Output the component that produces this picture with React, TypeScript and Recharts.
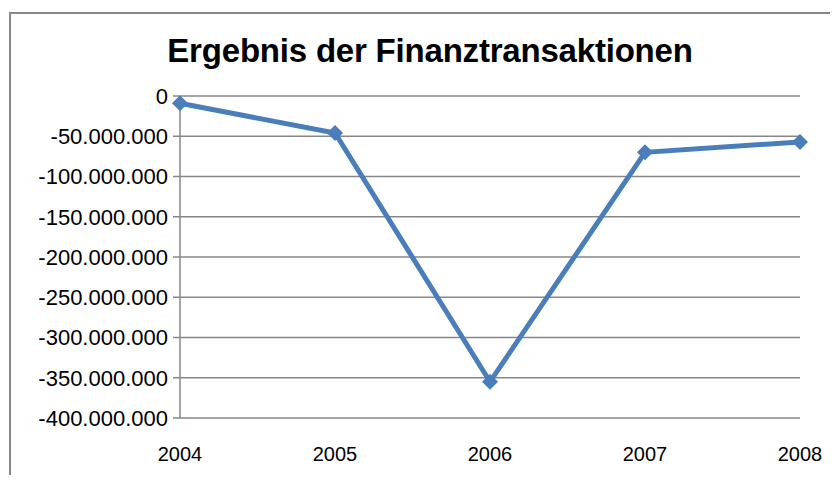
import { CartesianGrid, Line, LineChart, XAxis, YAxis } from "recharts";

const years = ["2004", "2005", "2006", "2007", "2008"];
const results = [-9000000, -46000000, -355000000, -70000000, -57000000];
const yTicks = [0, -50000000, -100000000, -150000000, -200000000, -250000000, -300000000, -350000000, -400000000];

const data = years.map((year, i) => ({ year, value: results[i] }));

const gray = "#878787";
const blue = "#4a7ebb";
const font = "'Liberation Sans', Arial, sans-serif";
const plotTop = 96;

// 1.000.000 style, with a plain hyphen as minus
function formatDe(v: number) {
  const s = Math.abs(v).toString().replace(/\B(?=(\d{3})+(?!\d))/g, ".");
  return v < 0 ? "-" + s : s;
}

function Diamond(props: any) {
  const { cx, cy } = props;
  if (cx == null || cy == null) return null;
  const r = 8;
  return (
    <polygon
      points={`${cx},${cy - r} ${cx + r},${cy} ${cx},${cy + r} ${cx - r},${cy}`}
      fill={blue}
    />
  );
}

// small tick marks hanging down from the category axis at the 0 line
function TopTick(props: any) {
  const { x } = props;
  return <line x1={x} x2={x} y1={plotTop} y2={plotTop + 6} stroke={gray} strokeWidth={1.5} />;
}

export default function App() {
  return (
    <div style={{ position: "relative", width: 838, height: 483, margin: -8, overflow: "hidden", background: "#fff" }}>
      <div
        style={{
          position: "absolute",
          left: 9,
          top: 12,
          width: 900,
          height: 600,
          border: `2px solid ${gray}`,
          boxSizing: "border-box",
        }}
      />
      <div
        style={{
          position: "absolute",
          left: 0,
          width: 860,
          top: 32,
          textAlign: "center",
          fontFamily: font,
          fontWeight: "bold",
          fontSize: 33,
          letterSpacing: -0.2,
          color: "#000",
        }}
      >
        Ergebnis der Finanztransaktionen
      </div>
      <LineChart
        width={838}
        height={483}
        data={data}
        margin={{ top: plotTop, right: 38, bottom: 0, left: 0 }}
        style={{ position: "absolute", left: 0, top: 0 }}
      >
        <CartesianGrid vertical={false} stroke={gray} strokeWidth={1.5} />
        <XAxis
          xAxisId="top"
          dataKey="year"
          orientation="top"
          height={0}
          tickLine={false}
          stroke={gray}
          strokeWidth={1.5}
          tick={<TopTick />}
        />
        <XAxis
          xAxisId="bottom"
          dataKey="year"
          orientation="bottom"
          height={65}
          axisLine={false}
          tickLine={false}
          tickSize={0}
          tickMargin={29}
          tick={{ fill: "#000", fontSize: 20, fontFamily: font }}
        />
        <YAxis
          width={180}
          domain={[-400000000, 0]}
          ticks={yTicks}
          interval={0}
          tickFormatter={formatDe}
          tickSize={7}
          tickMargin={5}
          stroke={gray}
          strokeWidth={1.5}
          tick={{ fill: "#000", fontSize: 22, fontFamily: font }}
        />
        <Line
          xAxisId="bottom"
          dataKey="value"
          stroke={blue}
          strokeWidth={5}
          dot={<Diamond />}
          activeDot={false}
          isAnimationActive={false}
        />
      </LineChart>
    </div>
  );
}
